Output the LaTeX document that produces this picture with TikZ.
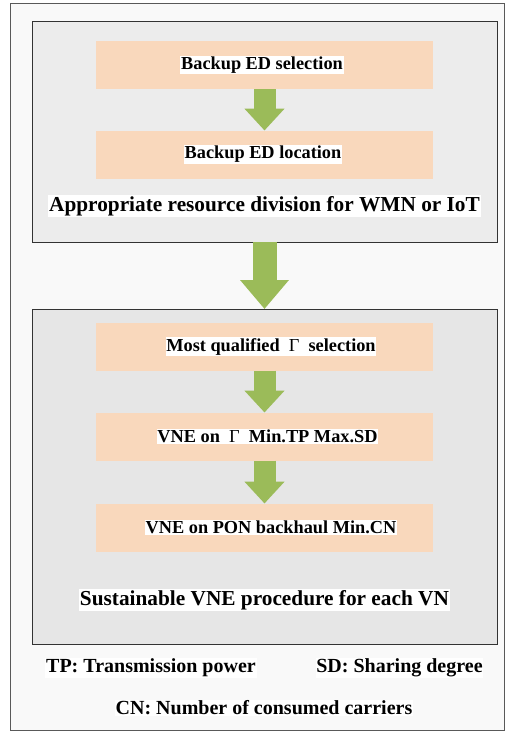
\documentclass[tikz,border=0pt]{standalone}
\usepackage{fontspec}
\setmainfont{Liberation Serif}
\usetikzlibrary{arrows.meta}

\definecolor{paleback}{HTML}{F9F9F9}
\definecolor{panelgray}{HTML}{ECECEC}
\definecolor{panelgraydark}{HTML}{E6E6E6}
\definecolor{peach}{HTML}{F9D8BC}
\definecolor{leafgreen}{HTML}{9BBB59}

\begin{document}
\begin{tikzpicture}[x=1pt, y=-1pt,
    panel/.style={draw=black!80, line width=1pt, minimum width=465pt, inner sep=0pt, outer sep=0pt},
    stepbox/.style={fill=peach, minimum width=337pt, minimum height=48pt, inner sep=0pt, outer sep=0pt},
    boxtext/.style={fill=white, inner sep=0.8pt, font=\bfseries\fontsize{18.3}{20}\selectfont},
    headtext/.style={fill=white, inner sep=0.8pt, font=\bfseries\fontsize{21.3}{24}\selectfont},
    keytext/.style={fill=white, inner sep=0.8pt, font=\bfseries\fontsize{20}{22}\selectfont},
    smallarrow/.style={draw=leafgreen, line width=22pt, -{Triangle[width=39pt, length=22pt]}},
    bigarrow/.style={draw=leafgreen, line width=24pt, -{Triangle[width=47pt, length=29pt]}}]

      \useasboundingbox (0,0) rectangle (505,732);

      % Outer frame
      \draw[draw=black!65, fill=paleback, line width=0.8pt] (10,3) rectangle (504,730);

      % Panels
      \node[panel, fill=panelgray, minimum height=221pt] (wmn) at (264.5,131.5) {};
      \node[panel, fill=panelgraydark, minimum height=335pt] (vne) at (264.5,476.5) {};

      % Steps
      \foreach \n/\y in {s1/65, s2/154.5, s3/346.5, s4/436.5, s5/527.5}
        \node[stepbox] (\n) at (264.5,\y) {};

      \node[boxtext] (t1) at (262,65) {Backup ED selection};
      \node[boxtext] (t2) at (263,154.5) {Backup ED location};
      \node[boxtext] (t3) at (271,346.5) {Most qualified \ \textmd{Γ} \ selection};
      \node[boxtext] (t4) at (267.5,436.5) {VNE on \ \textmd{Γ} \ Min.TP Max.SD};
      \node[boxtext] (t5) at (271,527.5) {VNE on PON backhaul Min.CN};

      % Panel titles
      \node[headtext] (wmntitle) at (264.5,206) {Appropriate resource division for WMN or IoT};
      \node[headtext] (vnetitle) at (264.5,600) {Sustainable VNE procedure for each VN};

      % Connecting steps
      \foreach \a/\b in {s1/s2, s3/s4, s4/s5}
        \draw[smallarrow] (\a.south) -- (\b.north);
      \draw[bigarrow] (wmn.south) -- (vne.north);

      % Key
      \node[keytext] (keytp) at (151,668) {TP: Transmission power};
      \node[keytext] (keysd) at (399.5,668) {SD: Sharing degree};
      \node[keytext] (keycn) at (264,708) {CN: Number of consumed carriers};

  \end{tikzpicture}
\end{document}
